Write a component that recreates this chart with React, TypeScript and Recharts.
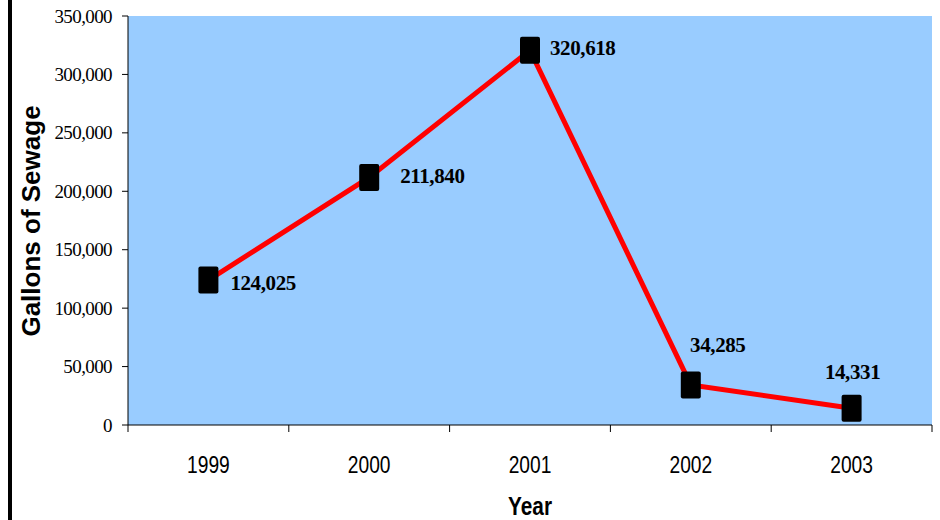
import React from "react";
import { LineChart, Line, XAxis, YAxis, CartesianGrid } from "recharts";

const years = ["1999", "2000", "2001", "2002", "2003"];
const gallons = [124025, 211840, 320618, 34285, 14331];
const yTicks = [0, 50000, 100000, 150000, 200000, 250000, 300000, 350000];

const data = years.map((year, i) => ({ year, gallons: gallons[i] }));

const W = 940;
const H = 520;
const LEFT = 128;
const RIGHT = 8;
const TOP = 16;
const BOTTOM = 95;
const plotW = W - LEFT - RIGHT;
const half = plotW / years.length / 2;

// label placement relative to each marker (hand-placed in the original)
const labelOffsets = [
  { dx: 22, dy: 3, anchor: "start" },
  { dx: 31, dy: -1, anchor: "start" },
  { dx: 20, dy: -2, anchor: "start" },
  { dx: 27, dy: -40, anchor: "middle" },
  { dx: 1, dy: -36, anchor: "middle" },
];

const SERIF = "'Liberation Serif', 'Times New Roman', serif";
const SANS = "'Liberation Sans', Arial, sans-serif";

const fmt = (v: number) => v.toLocaleString("en-US");

function XTick(props: any) {
  const { x, y, payload, index } = props;
  const last = index === years.length - 1;
  return (
    <g>
      <line x1={x - half} y1={y} x2={x - half} y2={y + 7} stroke="#000" />
      {last && <line x1={x + half} y1={y} x2={x + half} y2={y + 7} stroke="#000" />}
      <text
        transform={`translate(${x},${y + 48}) scale(0.8,1)`}
        textAnchor="middle"
        style={{ fontFamily: SANS }}
        fontSize={24}
        fill="#000"
      >
        {payload.value}
      </text>
    </g>
  );
}

function YTick(props: any) {
  const { x, y, payload } = props;
  return (
    <text
      x={x}
      y={y}
      textAnchor="end"
      dominantBaseline="central"
      style={{ fontFamily: SERIF, letterSpacing: "-0.6px" }}
      fontSize={19}
      fill="#000"
    >
      {fmt(payload.value)}
    </text>
  );
}

function Marker(props: any) {
  const { cx, cy, index } = props;
  if (cx == null || cy == null) return null;
  return <rect key={index} x={cx - 10} y={cy - 13.5} width={20} height={27} rx={2} fill="#000" />;
}

function ValueLabel(props: any) {
  const { x, y, value, index } = props;
  const o = labelOffsets[index] || { dx: 20, dy: 0, anchor: "start" };
  return (
    <text
      key={index}
      x={x + o.dx}
      y={y + o.dy}
      dominantBaseline="central"
      textAnchor={o.anchor}
      style={{ fontFamily: SERIF, letterSpacing: "-0.4px" }}
      fontWeight="bold"
      fontSize={21}
      fill="#000"
    >
      {fmt(value)}
    </text>
  );
}

export default function App() {
  return (
    <div style={{ position: "absolute", left: 0, top: 0, width: W, height: H, background: "#fff" }}>
      <div style={{ position: "absolute", left: 8, top: 0, width: 4, height: H, background: "#000" }} />
      <LineChart
        width={W}
        height={H}
        data={data}
        margin={{ top: TOP, right: RIGHT, bottom: 0, left: 0 }}
      >
        <CartesianGrid fill="#99ccff" horizontal={false} vertical={false} />
        <XAxis
          dataKey="year"
          height={BOTTOM}
          padding={{ left: half, right: half }}
          axisLine={{ stroke: "#000" }}
          tickLine={false}
          tickSize={0}
          tickMargin={0}
          interval={0}
          tick={<XTick />}
          label={{
            content: () => (
              <text
                transform="translate(530,515) scale(0.8,1)"
                textAnchor="middle"
                style={{ fontFamily: SANS }}
                fontWeight="bold"
                fontSize={26}
                fill="#000"
              >
                Year
              </text>
            ),
          }}
        />
        <XAxis
          xAxisId="top"
          dataKey="year"
          orientation="top"
          height={0}
          tick={false}
          tickLine={false}
          axisLine={{ stroke: "#888", strokeWidth: 2 }}
        />
        <YAxis
          width={LEFT}
          domain={[0, 350000]}
          ticks={yTicks}
          interval={0}
          tickSize={6}
          tickMargin={10}
          axisLine={{ stroke: "#000" }}
          tickLine={{ stroke: "#000" }}
          tick={<YTick />}
          label={{
            content: () => (
              <text
                transform="translate(31,221) rotate(-90)"
                textAnchor="middle"
                dominantBaseline="central"
                style={{ fontFamily: SANS }}
                fontWeight="bold"
                fontSize={26}
                fill="#000"
              >
                Gallons of Sewage
              </text>
            ),
          }}
        />
        <YAxis
          yAxisId="right"
          orientation="right"
          width={0}
          domain={[0, 350000]}
          tick={false}
          tickLine={false}
          axisLine={{ stroke: "#888", strokeWidth: 2 }}
        />
        <Line
          dataKey="gallons"
          stroke="#ff0000"
          strokeWidth={5}
          isAnimationActive={false}
          dot={<Marker />}
          activeDot={false}
          label={<ValueLabel />}
        />
      </LineChart>
    </div>
  );
}
